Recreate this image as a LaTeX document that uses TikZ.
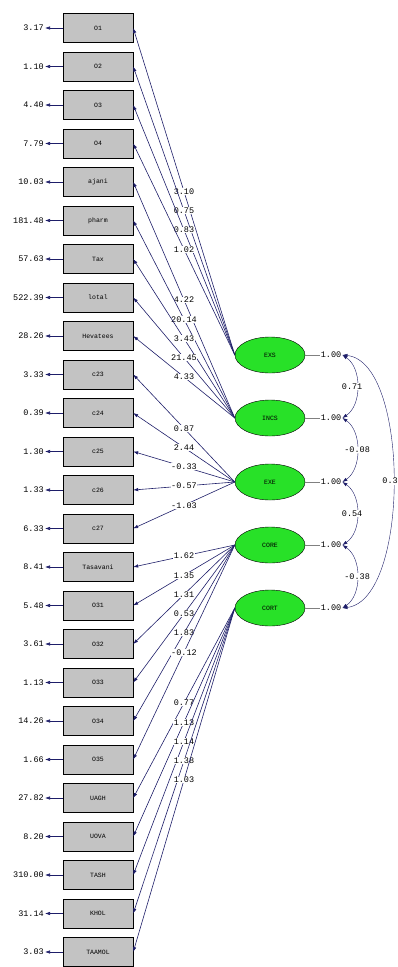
\documentclass[tikz,border=0pt]{standalone}
\usepackage{fontspec}
\setmonofont{Liberation Mono}
\usetikzlibrary{arrows.meta,shapes.geometric}
\definecolor{pathnavy}{RGB}{30,30,105}
\definecolor{latgreen}{RGB}{40,225,40}
\definecolor{boxgray}{RGB}{195,195,195}

\begin{document}
\begin{tikzpicture}[x=1pt,y=-1pt,>={Latex[length=5pt,width=3.5pt]},
  font=\ttfamily\fontsize{8.5}{10}\selectfont,
  obs/.style={draw,fill=boxgray,minimum width=70pt,minimum height=29pt,inner sep=0pt,
    font=\ttfamily\fontsize{6.5}{8}\selectfont},
  lat/.style={ellipse,draw,fill=latgreen,minimum width=70pt,minimum height=36pt,inner sep=0pt,
    font=\ttfamily\fontsize{6.5}{8}\selectfont},
  err/.style={anchor=east,inner sep=1pt},
  val/.style={fill=white,text=black,inner sep=0.6pt},
  load/.style={->,pathnavy,semithick}]
\useasboundingbox (0,0) rectangle (398,967);

% observed variables with error variances
\foreach \nm/\txt/\ev [count=\i from 0] in {O1/O1/3.17, O2/O2/1.10, O3/O3/4.40, O4/O4/7.79,
  ajani/ajani/10.03, pharm/pharm/181.48, tax/Tax/57.63, lotal/lotal/522.39,
  hevat/Hevatees/28.26, c23/c23/3.33, c24/c24/0.39, c25/c25/1.30, c26/c26/1.33,
  c27/c27/6.33, tasav/Tasavani/8.41, O31/O31/5.48, O32/O32/3.61, O33/O33/1.13,
  O34/O34/14.26, O35/O35/1.66, UAGH/UAGH/27.82, UOVA/UOVA/8.20, TASH/TASH/310.00,
  KHOL/KHOL/31.14, TAAMOL/TAAMOL/3.03}{
  \node[obs] (\nm) at (98,{28+38.5*\i}) {\txt};
  \node[err] (e\nm) at (45,{28+38.5*\i}) {\ev};
  \draw[->,pathnavy,semithick] (\nm.west) -- (e\nm.east);
}

% latent variables
\node[lat] (EXS) at (270,355) {EXS};
\node[lat] (INCS) at (270,418) {INCS};
\node[lat] (EXE) at (270,482) {EXE};
\node[lat] (CORE) at (270,545) {CORE};
\node[lat] (CORT) at (270,608) {CORT};

\foreach \lv in {EXS,INCS,EXE,CORE,CORT}{
  \node[inner sep=1pt] (v\lv) at (331,0 |- \lv) {1.00};
  \draw[gray] (\lv.east) -- (v\lv.west);
}

% loadings
\foreach \lv/\ob/\ld in {EXS/O1/3.10, EXS/O2/0.75, EXS/O3/0.83, EXS/O4/1.02,
  INCS/ajani/4.22, INCS/pharm/20.14, INCS/tax/3.43, INCS/lotal/21.45, INCS/hevat/4.33,
  EXE/c23/0.87, EXE/c24/2.44, EXE/c25/-0.33, EXE/c26/-0.57, EXE/c27/-1.03,
  CORE/tasav/1.62, CORE/O31/1.35, CORE/O32/1.31, CORE/O33/0.53, CORE/O34/1.83, CORE/O35/-0.12,
  CORT/UAGH/0.77, CORT/UOVA/1.13, CORT/TASH/1.14, CORT/KHOL/1.38, CORT/TAAMOL/1.03}{
  \draw[load] (\lv.west) -- node[val] {\ld} (\ob.east);
}

% covariances
\draw[<->,pathnavy] (vEXS.east) .. controls (362,368) and (362,405) .. (vINCS.east)
  node[midway,val,xshift=-5pt] {0.71};
\draw[<->,pathnavy] (vINCS.east) .. controls (362,431) and (362,469) .. (vEXE.east)
  node[midway,val] {-0.08};
\draw[<->,pathnavy] (vEXE.east) .. controls (362,495) and (362,532) .. (vCORE.east)
  node[midway,val,xshift=-5pt] {0.54};
\draw[<->,pathnavy] (vCORE.east) .. controls (362,558) and (362,595) .. (vCORT.east)
  node[midway,val] {-0.38};
\draw[<->,pathnavy] (vEXS.east) .. controls (410,362) and (410,600) .. (vCORT.east)
  node[midway,val,xshift=-3pt] {0.3};
\end{tikzpicture}
\end{document}
